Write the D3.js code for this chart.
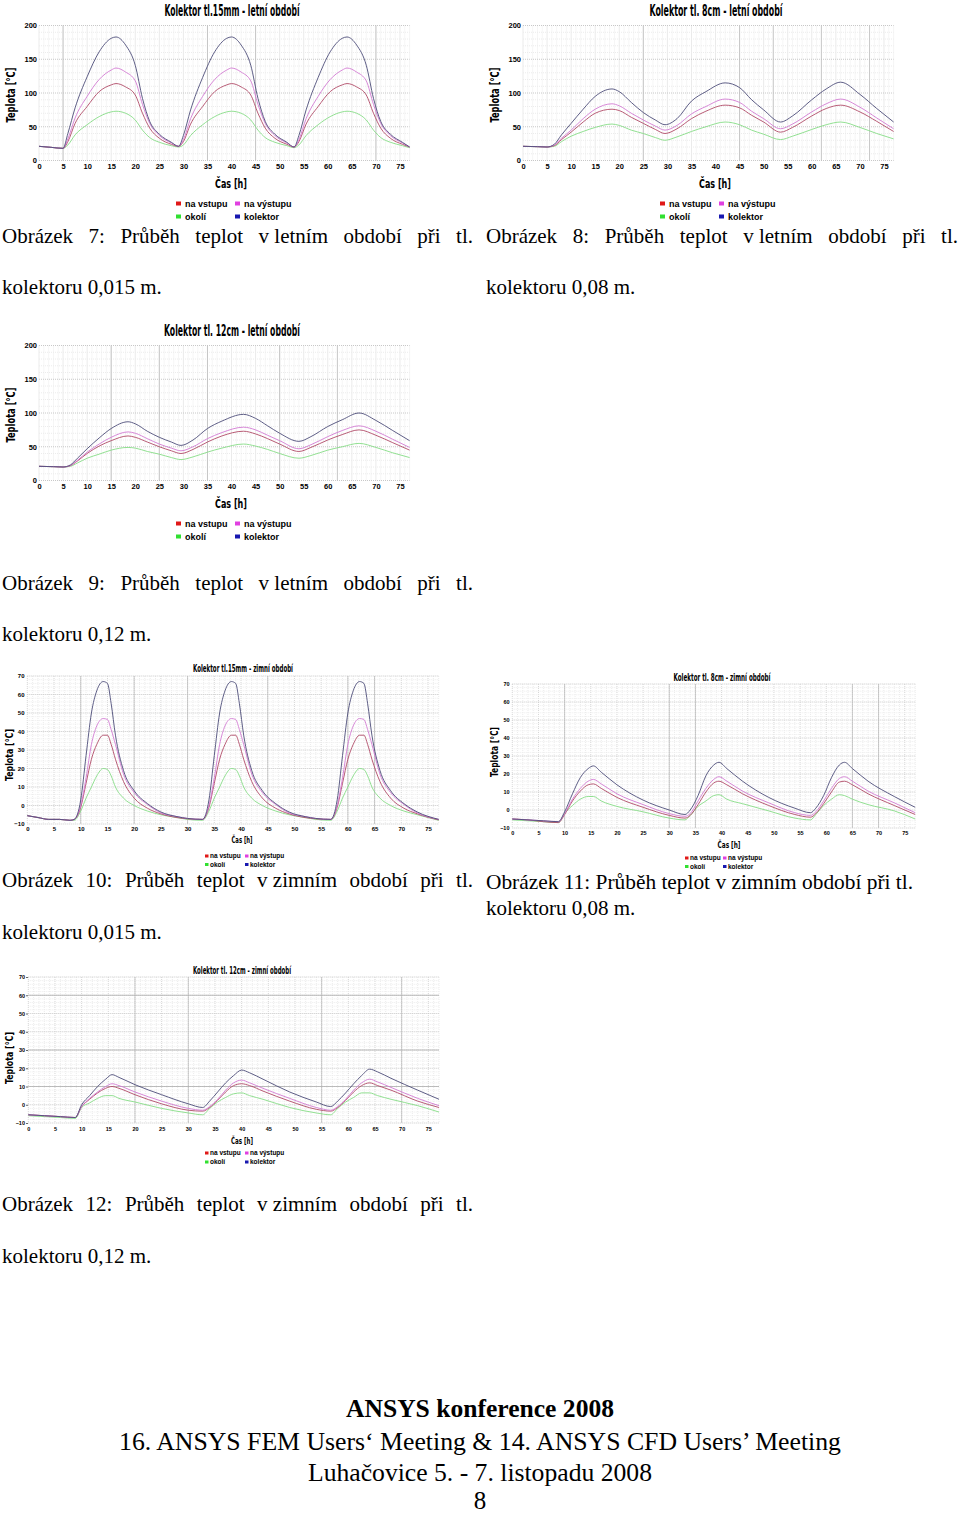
<!DOCTYPE html>
<html>
<head>
<meta charset="utf-8">
<script src="https://cdn.jsdelivr.net/npm/d3@7"></script>
<style>
  body { margin: 0; background: #fff; }
  svg { display: block; }
</style>
</head>
<body>
<svg id="page" width="960" height="1514"></svg>
<script>
// --- data ---
const seriesNames = ["na vstupu", "na výstupu", "okolí", "kolektor"];
const xTicks = [0, 5, 10, 15, 20, 25, 30, 35, 40, 45, 50, 55, 60, 65, 70, 75];
const summerYTicks = [0, 50, 100, 150, 200];
const winterYTicks = [-10, 0, 10, 20, 30, 40, 50, 60, 70];

// Obrázek 7 - 15mm, leto
const c7Time = [0, 2.5, 5, 6, 7.5, 10, 12.5, 15, 16, 18, 20, 21.5, 23, 25, 27.5, 29,
  30, 31.5, 34, 36.5, 39, 40, 42, 44, 45.5, 47, 49, 51.5, 53,
  54, 55.5, 58, 60.5, 63, 64, 66, 68, 69.5, 71, 73, 75.5, 77];
const c7Kolektor = [21, 19.5, 18, 40, 78, 124, 161, 181, 183, 171, 141, 92, 58, 39, 27, 21,
  37, 75, 123, 161, 181, 183, 171, 141, 92, 58, 39, 27, 20,
  37, 75, 123, 161, 181, 183, 171, 141, 92, 58, 39, 27, 20];
const c7Vystup = [21, 19.5, 18, 32, 63, 95, 120, 134, 137, 131, 118, 83, 55, 37, 26, 21,
  31, 62, 95, 120, 134, 137, 131, 118, 83, 55, 37, 26, 20,
  31, 62, 95, 120, 134, 137, 131, 118, 83, 55, 37, 26, 20];
const c7Vstup = [21, 19.5, 18, 28, 55, 80, 102, 112, 114, 109, 97, 70, 48, 33, 24, 21,
  28, 54, 80, 102, 112, 114, 109, 97, 70, 48, 33, 24, 20,
  28, 54, 80, 102, 112, 114, 109, 97, 70, 48, 33, 24, 20];
const c7Okoli = [21, 19.5, 18, 23, 38, 53, 65, 72, 73, 70, 60, 45, 34, 27, 22, 20,
  23, 37, 53, 65, 72, 73, 70, 60, 45, 34, 27, 22, 19,
  23, 37, 53, 65, 72, 73, 70, 60, 45, 34, 27, 22, 19];

// Obrázek 8 - 8cm, leto
const c8Time = [0, 3, 5, 6.5, 8, 10, 12.5, 15, 18.5, 20, 22.5, 25, 27.5, 29.5, 32, 35, 38, 42, 45, 47.5, 50, 53.5, 56, 60, 63, 66, 70, 73.5, 77];
const c8Kolektor = [21, 20.5, 20, 24, 38, 55, 76, 95, 106, 102, 86, 71, 60, 53, 62, 88, 102, 115, 108, 90, 75, 57, 66, 90, 106, 116, 98, 77, 57];
const c8Vystup = [21, 20.5, 20, 23, 33, 45, 62, 76, 84, 81, 70, 60, 51, 45, 52, 69, 80, 91, 86, 73, 62, 47, 54, 72, 84, 91, 79, 63, 47];
const c8Vstup = [21, 20.5, 20, 22, 31, 42, 57, 70, 76, 74, 64, 55, 46, 40, 47, 62, 73, 82, 78, 67, 57, 42, 49, 66, 77, 82, 72, 58, 43];
const c8Okoli = [21, 20.5, 20, 21, 28, 36, 43, 49, 54, 52, 45, 40, 34, 30, 35, 43, 50, 57, 53, 45, 39, 31, 36, 46, 53, 57, 49, 40, 32];

// Obrázek 9 - 12cm, leto
const c9Time = [0, 3, 5, 6.5, 8, 10, 12.5, 15, 18.5, 20, 22.5, 25, 27.5, 29.5, 32, 35, 38, 42.5, 45, 47.5, 50, 54, 56.5, 60, 63, 66.5, 70, 73.5, 77];
const c9Kolektor = [21, 20.5, 20, 23, 33, 47, 63, 77, 87, 84, 73, 64, 57, 52, 60, 77, 88, 98, 92, 81, 70, 58, 65, 80, 90, 100, 89, 74, 59];
const c9Vystup = [21, 20.5, 20, 22, 30, 42, 54, 64, 72, 70, 62, 54, 48, 44, 50, 62, 71, 79, 75, 67, 59, 47, 53, 65, 74, 81, 73, 61, 49];
const c9Vstup = [21, 20.5, 20, 22, 29, 40, 51, 59, 66, 64, 57, 50, 44, 40, 46, 57, 66, 73, 69, 62, 54, 43, 49, 60, 68, 75, 67, 56, 45];
const c9Okoli = [21, 20.5, 20, 21, 26, 33, 39, 45, 49, 48, 43, 39, 34, 31, 35, 42, 48, 54, 51, 46, 40, 33, 37, 45, 50, 55, 49, 41, 34];

// Obrázek 10 - 15mm, zima
const c10Time = [0, 2, 4, 6, 8, 8.8,
  10, 11, 12, 13, 14.2, 15, 15.7, 16.5, 18, 20, 22.5, 25, 28, 30, 32.8,
  34, 35, 36, 37, 38.2, 39, 39.7, 40.5, 42, 44, 46.5, 49, 52, 54, 56.8,
  58, 59, 60, 61, 62.2, 63, 63.7, 64.5, 66, 68, 70.5, 73, 77];
const c10Kolektor = [-5.5, -6.5, -7.5, -7.5, -8, -7.5,
  3, 27, 50, 62, 67, 66, 55, 38, 19, 8, 1, -3.5, -6, -7, -7.5,
  3, 27, 50, 62, 67, 66, 55, 38, 19, 8, 1, -3.5, -6, -7, -7.5,
  3, 27, 50, 62, 67, 66, 55, 38, 19, 8, 1, -3.5, -7.5];
const c10Vystup = [-5.5, -6.5, -7.5, -7.5, -8, -7.5,
  0, 15, 33, 43, 47, 46.5, 41, 33, 17, 7, 0.5, -4, -6, -7, -7.5,
  0, 15, 33, 43, 47, 46.5, 41, 33, 17, 7, 0.5, -4, -6, -7, -7.5,
  0, 15, 33, 43, 47, 46.5, 41, 33, 17, 7, 0.5, -4, -7.5];
const c10Vstup = [-5.5, -6.5, -7.5, -7.5, -8, -7.5,
  -1, 12, 25, 33, 38, 38, 33, 25, 13, 4, -1.5, -4.5, -6.5, -7.2, -7.5,
  -1, 12, 25, 33, 38, 38, 33, 25, 13, 4, -1.5, -4.5, -6.5, -7.2, -7.5,
  -1, 12, 25, 33, 38, 38, 33, 25, 13, 4, -1.5, -4.5, -7.8];
const c10Okoli = [-5.5, -6.5, -7.5, -7.5, -8, -8,
  -3, 4, 10, 16, 20, 19.5, 16, 10, 4, 0, -3, -5, -6.5, -7.5, -8,
  -3, 4, 10, 16, 20, 19.5, 16, 10, 4, 0, -3, -5, -6.5, -7.5, -8,
  -3, 4, 10, 16, 20, 19.5, 16, 10, 4, 0, -3, -5, -8];

// Obrázek 11 - 8cm, zima
const c11Time = [0, 3, 6, 8.8,
  10, 11.5, 13, 14.5, 15.5, 17, 20, 25, 30, 33,
  34, 35.5, 37, 38.5, 39.5, 41, 44, 49, 54, 57,
  58, 59.5, 61, 62.5, 63.5, 65, 68, 73, 77];
const c11Kolektor = [-5, -5.5, -6, -6.5,
  -1, 9, 18, 23, 24.5, 21, 14, 5.5, 0, -2.5,
  0, 8, 19, 25, 26.5, 23, 16, 7, 1, -1.5,
  1, 8, 18, 25, 26.5, 23, 16, 7.5, 1.5];
const c11Vystup = [-5, -5.5, -6, -6.5,
  -2, 6, 12, 16, 17, 14.5, 9, 3, -2, -3.5,
  -2, 5, 12, 17, 18.5, 16, 10.5, 4, -1.5, -3,
  -1, 5, 12, 17.5, 18.5, 16, 10.5, 4, -1.5];
const c11Vstup = [-5, -5.5, -6.5, -7,
  -2.5, 5, 10.5, 14, 14.5, 12, 7, 1.5, -3, -4.5,
  -3, 3, 10, 15, 16, 14, 9, 2.5, -2.5, -4,
  -2, 3.5, 10, 15.5, 16, 14, 9, 2.5, -2.5];
const c11Okoli = [-5.5, -6, -6.5, -7,
  -2, 2.5, 6, 7.5, 7.5, 5, 2, -1, -4.5, -5.5,
  -3, 2, 5, 8, 8.5, 6, 3.5, -0.5, -4.5, -5.5,
  -2.5, 2.5, 6, 8.5, 8, 6, 3, -0.5, -5];

// Obrázek 12 - 12cm, zima
const c12Time = [0, 3, 6, 8.8,
  10, 11.5, 13, 14.5, 15.7, 17, 20, 25, 30, 32.7,
  34, 35.5, 37, 38.5, 40, 41.5, 44, 49, 54, 56.7,
  58, 59.5, 61, 62.5, 64, 65.5, 68, 73, 77];
const c12Kolektor = [-5.5, -6, -6.5, -7,
  0, 5, 10, 14, 16.5, 15, 11, 5.5, 0.5, -1.5,
  2, 7, 12, 16, 19, 17.5, 14, 7, 1.5, -1,
  2, 6.5, 11.5, 16, 19.5, 18, 14.5, 8, 3];
const c12Vystup = [-5.5, -6, -6.5, -7,
  -1, 3.5, 7, 10, 11.5, 10.5, 7, 2, -2, -3,
  -1, 3, 8, 12, 13.5, 12, 9, 3.5, -1.5, -3,
  -1, 3, 8, 12, 14, 12.5, 9.5, 3.5, -0.5];
const c12Vstup = [-5.5, -6, -6.5, -7,
  -1, 3, 6.5, 9, 10, 9, 5.5, 0.5, -3, -3.5,
  -1.5, 2.5, 7, 10.5, 11.5, 10.5, 7.5, 2, -2.5, -3.5,
  -1.5, 2.5, 7, 10.5, 12, 10.5, 8, 2, -1.5];
const c12Okoli = [-6, -6.5, -7, -7.5,
  -1.5, 1, 3.5, 5, 5, 3.5, 1.5, -2, -4.5, -5.5,
  -2, 1.5, 4, 6, 6.5, 5, 3, -1.5, -4.5, -5.5,
  -2, 1.5, 4, 6.5, 6.5, 5, 3, -0.5, -4];

// --- styles ---
const lineColors = ["#b04a66", "#d27ad2", "#86dc86", "#4c4c78"];
const legendColors = ["#e01818", "#e040e0", "#30e030", "#1818b0"];
const sansBold = "'Liberation Sans', Arial, sans-serif";
const narrow = "'Liberation Sans Narrow', 'Arial Narrow', 'DejaVu Sans Condensed', sans-serif";
const serif = "'Liberation Serif', 'Times New Roman', serif";

const svg = d3.select("#page");

function drawChart(c) {
  const g = svg.append("g");
  const x = d3.scaleLinear().domain([0, 77]).range([c.x0, c.x1]);
  const y = d3.scaleLinear().domain(c.yDomain).range([c.yBottom, c.yTop]);

  // grid - minor, major and the few darker lines
  g.append("g").selectAll("line").data(d3.range(0, 78, 1)).join("line")
    .attr("x1", d => x(d)).attr("x2", d => x(d))
    .attr("y1", c.yTop).attr("y2", c.yBottom)
    .attr("stroke", d => d % 5 === 0 ? "#d6d6d6" : "#ececec")
    .attr("stroke-dasharray", "1,1");
  g.append("g").selectAll("line").data(d3.range(c.yDomain[0], c.yDomain[1] + 0.01, c.minorY)).join("line")
    .attr("x1", c.x0).attr("x2", c.x1)
    .attr("y1", d => y(d)).attr("y2", d => y(d))
    .attr("stroke", d => d % c.majorY === 0 ? "#c8c8c8" : "#ececec")
    .attr("stroke-dasharray", "1,1");
  g.append("g").selectAll("line").data(c.darkX).join("line")
    .attr("x1", d => x(d)).attr("x2", d => x(d))
    .attr("y1", c.yTop).attr("y2", c.yBottom)
    .attr("stroke", "#bdbdbd").attr("stroke-width", 0.8);
  g.append("g").selectAll("line").data(c.darkY).join("line")
    .attr("x1", c.x0).attr("x2", c.x1)
    .attr("y1", d => y(d)).attr("y2", d => y(d))
    .attr("stroke", "#b0b0b0").attr("stroke-width", 0.8);

  // axes
  const xAxis = g.append("g")
    .attr("transform", "translate(0," + c.xTickY + ")")
    .call(d3.axisBottom(x).tickValues(xTicks).tickSize(0).tickPadding(0));
  xAxis.select(".domain").remove();
  xAxis.selectAll("text")
    .attr("dy", "0.35em")
    .attr("font-family", sansBold).attr("font-weight", "bold")
    .attr("font-size", c.tickFont).attr("fill", "#000");

  const yAxis = g.append("g")
    .attr("transform", "translate(" + c.yAxisX + ",0)")
    .call(d3.axisLeft(y).tickValues(c.yTicks).tickSize(c.yTickLen).tickPadding(1));
  yAxis.select(".domain").remove();
  yAxis.selectAll("line").attr("stroke", "#666");
  yAxis.selectAll("text")
    .attr("font-family", sansBold).attr("font-weight", "bold")
    .attr("font-size", c.tickFont).attr("fill", "#000");

  // series lines
  const line = d3.line()
    .x((d, i) => x(c.time[i]))
    .y(d => y(d))
    .curve(d3.curveMonotoneX);
  [2, 0, 1, 3].forEach(k => {
    g.append("path")
      .attr("d", line(c.series[k]))
      .attr("fill", "none")
      .attr("stroke", lineColors[k])
      .attr("stroke-width", 0.9);
  });

  // title and axis titles
  g.append("text")
    .attr("x", c.titleX).attr("y", c.titleY)
    .attr("text-anchor", "middle")
    .attr("font-family", narrow).attr("font-weight", "bold")
    .attr("font-size", c.titleFont)
    .attr("textLength", c.titleW).attr("lengthAdjust", "spacingAndGlyphs")
    .text(c.title);
  g.append("text")
    .attr("transform", "translate(" + c.yLabelX + "," + c.yLabelY + ") rotate(-90)")
    .attr("text-anchor", "middle").attr("dy", "0.35em")
    .attr("font-family", narrow).attr("font-weight", "bold")
    .attr("font-size", c.yLabelFont)
    .attr("textLength", c.yLabelW).attr("lengthAdjust", "spacingAndGlyphs")
    .text("Teplota [°C]");
  g.append("text")
    .attr("x", c.xLabelX).attr("y", c.xLabelY)
    .attr("text-anchor", "middle")
    .attr("font-family", narrow).attr("font-weight", "bold")
    .attr("font-size", c.xLabelFont)
    .attr("textLength", c.xLabelW).attr("lengthAdjust", "spacingAndGlyphs")
    .text("Čas [h]");

  // legend, 2x2
  const cols = [c.legX[0], c.legX[1], c.legX[0], c.legX[1]];
  const rows = [c.legY[0], c.legY[0], c.legY[1], c.legY[1]];
  seriesNames.forEach((name, k) => {
    g.append("rect")
      .attr("x", cols[k]).attr("y", rows[k] - c.sq[1] / 2)
      .attr("width", c.sq[0]).attr("height", c.sq[1])
      .attr("fill", legendColors[k]);
    g.append("text")
      .attr("x", cols[k] + c.legGap).attr("y", rows[k]).attr("dy", "0.35em")
      .attr("font-family", sansBold).attr("font-weight", "bold")
      .attr("font-size", c.legFont)
      .text(name);
  });
}

function summer(ox, oy, title, titleW, time, s, darkX) {
  return {
    title: title, time: time, series: s,
    x0: ox + 39, x1: ox + 409.6, yTop: oy + 25.5, yBottom: oy + 160.5,
    yDomain: [0, 200], yTicks: summerYTicks, minorY: 10, majorY: 50,
    darkX: darkX, darkY: [],
    xTickY: oy + 166.5, yAxisX: ox + 38, yTickLen: 0, tickFont: 7.5,
    titleX: ox + 232, titleY: oy + 16, titleFont: 16, titleW: titleW,
    yLabelX: ox + 11, yLabelY: oy + 95, yLabelFont: 12, yLabelW: 55,
    xLabelX: ox + 231, xLabelY: oy + 188, xLabelFont: 13, xLabelW: 32,
    legX: [ox + 176, ox + 235], legY: [oy + 203.5, oy + 216.5], sq: [5, 4], legGap: 9, legFont: 9
  };
}

drawChart(summer(0, 0, "Kolektor tl.15mm - letní období", 135,
  c7Time, [c7Vstup, c7Vystup, c7Okoli, c7Kolektor], [5, 35, 45, 70]));
drawChart(summer(484, 0, "Kolektor tl. 8cm - letní období", 133,
  c8Time, [c8Vstup, c8Vystup, c8Okoli, c8Kolektor], [25, 45, 52, 62, 72]));
drawChart(summer(0, 320, "Kolektor tl. 12cm - letní období", 136,
  c9Time, [c9Vstup, c9Vystup, c9Okoli, c9Kolektor], [15, 25, 35, 50, 62]));

drawChart({
  title: "Kolektor tl.15mm - zimní období", time: c10Time,
  series: [c10Vstup, c10Vystup, c10Okoli, c10Kolektor],
  x0: 27.3, x1: 438.7, yTop: 676, yBottom: 824,
  yDomain: [-10, 70], yTicks: winterYTicks, minorY: 2, majorY: 10,
  darkX: [10, 20, 30, 45, 60, 65], darkY: [],
  xTickY: 829, yAxisX: 25.5, yTickLen: 0, tickFont: 6,
  titleX: 243, titleY: 672, titleFont: 10.5, titleW: 100,
  yLabelX: 9, yLabelY: 755, yLabelFont: 10, yLabelW: 52,
  xLabelX: 242, xLabelY: 843, xLabelFont: 9.5, xLabelW: 21,
  legX: [205, 245], legY: [856, 864.5], sq: [3.5, 3], legGap: 5, legFont: 6.5
});
drawChart({
  title: "Kolektor tl. 8cm - zimní období", time: c11Time,
  series: [c11Vstup, c11Vystup, c11Okoli, c11Kolektor],
  x0: 512.3, x1: 915.2, yTop: 684, yBottom: 828,
  yDomain: [-10, 70], yTicks: winterYTicks, minorY: 2, majorY: 10,
  darkX: [10, 30, 35, 65, 70], darkY: [],
  xTickY: 833, yAxisX: 510.5, yTickLen: 0, tickFont: 5.5,
  titleX: 722, titleY: 681, titleFont: 10.5, titleW: 97,
  yLabelX: 494, yLabelY: 752, yLabelFont: 10, yLabelW: 50,
  xLabelX: 729, xLabelY: 848, xLabelFont: 9.5, xLabelW: 23,
  legX: [685, 723], legY: [858, 866.5], sq: [3.5, 3], legGap: 5, legFont: 6.5
});
drawChart({
  title: "Kolektor tl. 12cm - zimní období", time: c12Time,
  series: [c12Vstup, c12Vystup, c12Okoli, c12Kolektor],
  x0: 28.3, x1: 439, yTop: 977, yBottom: 1123,
  yDomain: [-10, 70], yTicks: winterYTicks, minorY: 2, majorY: 10,
  darkX: [20, 30, 55, 70], darkY: [60, 30, 10],
  xTickY: 1129, yAxisX: 28, yTickLen: 2, tickFont: 5.5,
  titleX: 242, titleY: 974, titleFont: 10.5, titleW: 98,
  yLabelX: 9, yLabelY: 1058, yLabelFont: 10, yLabelW: 52,
  xLabelX: 242, xLabelY: 1144, xLabelFont: 9.5, xLabelW: 22,
  legX: [205, 245], legY: [1153, 1162], sq: [3.5, 3], legGap: 5, legFont: 6.5
});

// --- captions (document text); "|" marks a space that is not stretched ---
const captions = [
  { t: "Obrázek 7: Průběh teplot v|letním období při tl.", x0: 2, x1: 473, y: 243, justify: true },
  { t: "kolektoru 0,015 m.", x0: 2, y: 294 },
  { t: "Obrázek 8: Průběh teplot v|letním období při tl.", x0: 486, x1: 958, y: 243, justify: true },
  { t: "kolektoru 0,08 m.", x0: 486, y: 294 },
  { t: "Obrázek 9: Průběh teplot v|letním období při tl.", x0: 2, x1: 473, y: 590, justify: true },
  { t: "kolektoru 0,12 m.", x0: 2, y: 641 },
  { t: "Obrázek 10: Průběh teplot v|zimním období při tl.", x0: 2, x1: 473, y: 887, justify: true },
  { t: "Obrázek 11: Průběh teplot v zimním období při tl.", x0: 486, x1: 913, y: 889, fit: true },
  { t: "kolektoru 0,08 m.", x0: 486, y: 915 },
  { t: "kolektoru 0,015 m.", x0: 2, y: 939 },
  { t: "Obrázek 12: Průběh teplot v|zimním období při tl.", x0: 2, x1: 473, y: 1211, justify: true },
  { t: "kolektoru 0,12 m.", x0: 2, y: 1263 }
];

captions.forEach(cap => {
  const txt = svg.append("text")
    .attr("y", cap.y)
    .attr("font-family", serif).attr("font-size", 21)
    .attr("fill", "#000");
  if (cap.justify) {
    // spread the words over the whole column width
    const words = cap.t.split(" ").map(w => w.replace("|", " "));
    const spans = words.map(w => txt.append("tspan").attr("xml:space", "preserve").text(w));
    const widths = spans.map(s => s.node().getComputedTextLength());
    const gap = (cap.x1 - cap.x0 - d3.sum(widths)) / (words.length - 1);
    let pos = cap.x0;
    spans.forEach((s, i) => { s.attr("x", pos); pos += widths[i] + gap; });
  } else if (cap.fit) {
    txt.attr("x", cap.x0)
      .attr("textLength", cap.x1 - cap.x0).attr("lengthAdjust", "spacingAndGlyphs")
      .text(cap.t);
  } else {
    txt.attr("x", cap.x0).text(cap.t);
  }
});

// --- page footer ---
const footer = [
  { t: "ANSYS konference 2008", y: 1417, w: 268, bold: true },
  { t: "16. ANSYS FEM Users‘ Meeting & 14. ANSYS CFD Users’ Meeting", y: 1450, w: 722 },
  { t: "Luhačovice 5. - 7. listopadu 2008", y: 1481, w: 344 },
  { t: "8", y: 1509, w: 0, size: 25 }
];
footer.forEach(f => {
  const txt = svg.append("text")
    .attr("x", 480).attr("y", f.y)
    .attr("text-anchor", "middle")
    .attr("font-family", serif).attr("font-size", f.size || 26)
    .attr("font-weight", f.bold ? "bold" : "normal")
    .text(f.t);
  if (f.w) txt.attr("textLength", f.w).attr("lengthAdjust", "spacingAndGlyphs");
});
</script>
</body>
</html>
